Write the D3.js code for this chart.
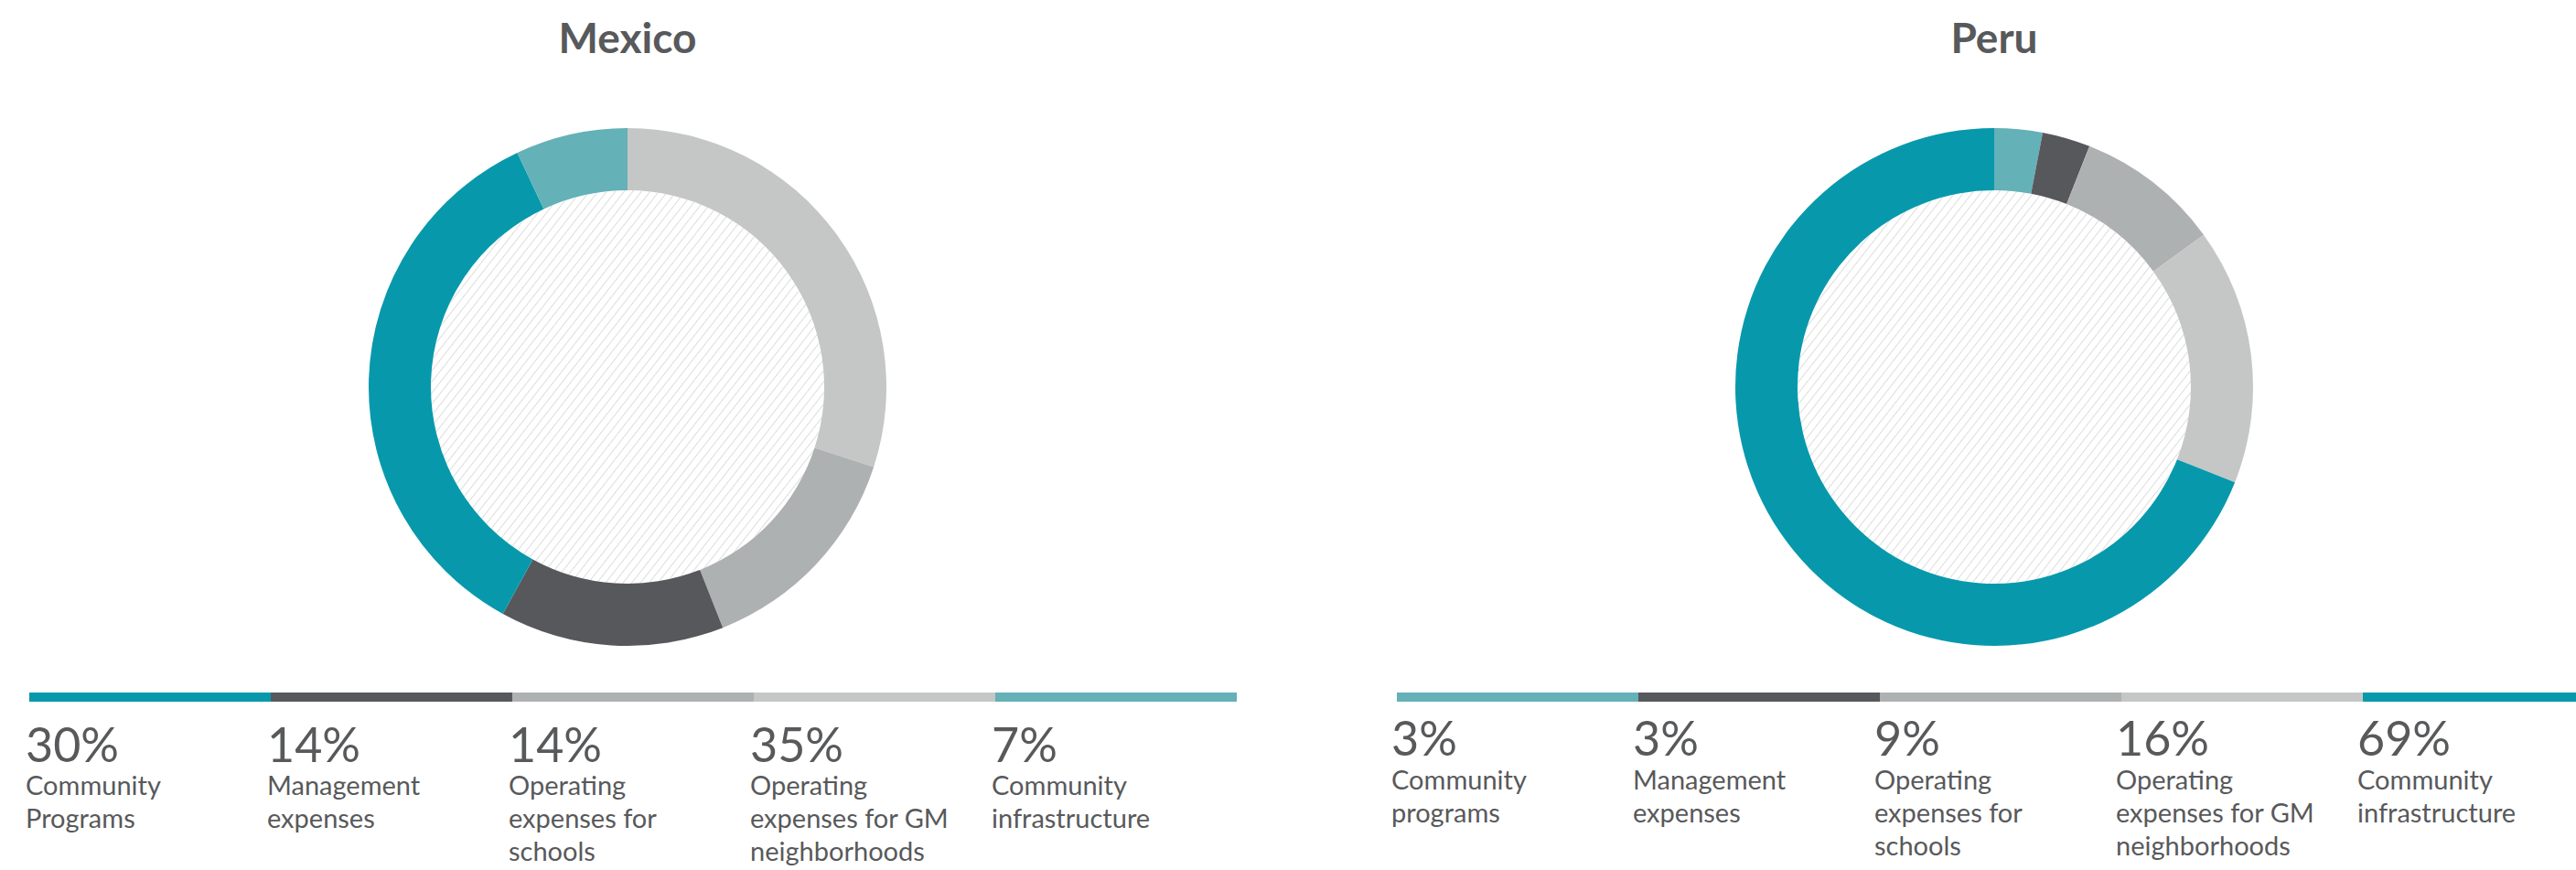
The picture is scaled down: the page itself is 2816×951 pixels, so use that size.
<!DOCTYPE html>
<html>
<head>
<meta charset="utf-8">
<script src="https://cdn.jsdelivr.net/npm/d3@7"></script>
<style>
  html, body { margin: 0; padding: 0; background: #fff; }
  svg { display: block; }
</style>
</head>
<body>
<div id="chart"></div>
<script>
// Data
const mexicoValues = [30, 14, 14, 35, 7];
const mexicoLabels = [
    ["Community", "Programs"],
    ["Management", "expenses"],
    ["Operating", "expenses for", "schools"],
    ["Operating", "expenses for GM", "neighborhoods"],
    ["Community", "infrastructure"]
];
const peruValues = [3, 3, 9, 16, 69];
const peruLabels = [
    ["Community", "programs"],
    ["Management", "expenses"],
    ["Operating", "expenses for", "schools"],
    ["Operating", "expenses for GM", "neighborhoods"],
    ["Community", "infrastructure"]
];

// Colour palette
const palette = {
    teal: "#0799ab",
    lightTeal: "#64b1b8",
    dark: "#57585c",
    mid: "#aeb1b2",
    light: "#c5c7c6"
};
const textColor = "#58595b";

// legend colours and slice colours (clockwise from 12 o'clock)
const mexicoLegendColors = [palette.teal, palette.dark, palette.mid, palette.light, palette.lightTeal];
const mexicoSliceColors = [palette.light, palette.mid, palette.dark, palette.teal, palette.lightTeal];
const peruLegendColors = [palette.lightTeal, palette.dark, palette.mid, palette.light, palette.teal];
const peruSliceColors = peruLegendColors;

const width = 2816, height = 951;
const fontFamily = "Lato, 'Noto Sans', sans-serif";

const svg = d3.select("#chart")
    .append("svg")
    .attr("width", width)
    .attr("height", height)
    .style("font-family", fontFamily);

// Hatch for the donut hole
const defs = svg.append("defs");
defs.append("pattern")
    .attr("id", "hatch")
    .attr("patternUnits", "userSpaceOnUse")
    .attr("width", 7.5)
    .attr("height", 7.5)
    .attr("patternTransform", "rotate(38)")
    .append("line")
    .attr("x1", 0).attr("y1", 0)
    .attr("x2", 0).attr("y2", 7.5)
    .attr("stroke", "#cfcfcf")
    .attr("stroke-width", 1.4);

const outerR = 283, innerR = 215;
const colWidth = 264;

const charts = [
    {
        title: "Mexico", values: mexicoValues, labels: mexicoLabels,
        legendColors: mexicoLegendColors, sliceColors: mexicoSliceColors,
        cx: 686, cy: 423, legendX: 32, textDx: -4, pctY: 833, labelY: 869
    },
    {
        title: "Peru", values: peruValues, labels: peruLabels,
        legendColors: peruLegendColors, sliceColors: peruSliceColors,
        cx: 2180, cy: 423, legendX: 1527, textDx: -6, pctY: 826, labelY: 863
    }
];

const pie = d3.pie().sort(null).value(d => d);
const arc = d3.arc().innerRadius(innerR).outerRadius(outerR);

charts.forEach(c => {
    const g = svg.append("g");

    // Title
    g.append("text")
        .attr("x", c.cx)
        .attr("y", 58)
        .attr("text-anchor", "middle")
        .attr("fill", textColor)
        .style("font-size", "46px")
        .style("font-weight", "bold")
        .text(c.title);

    // Donut
    const donut = g.append("g")
        .attr("transform", `translate(${c.cx},${c.cy})`);
    donut.append("circle")
        .attr("r", innerR)
        .attr("fill", "url(#hatch)");
    donut.selectAll("path")
        .data(pie(c.values))
        .join("path")
        .attr("fill", (d, i) => c.sliceColors[i])
        .attr("d", arc);

    // Legend
    const x = d3.scaleBand()
        .domain(d3.range(c.values.length))
        .range([c.legendX, c.legendX + colWidth * c.values.length]);

    const items = g.selectAll(".legend-item")
        .data(c.values)
        .join("g")
        .attr("class", "legend-item")
        .attr("transform", (d, i) => `translate(${x(i)},0)`);

    items.append("rect")
        .attr("x", 0)
        .attr("y", 757)
        .attr("width", x.bandwidth())
        .attr("height", 10)
        .attr("fill", (d, i) => c.legendColors[i]);

    items.append("text")
        .attr("x", c.textDx)
        .attr("y", c.pctY)
        .attr("fill", textColor)
        .style("font-size", "52px")
        .text(d => d + "%");

    items.append("text")
        .attr("fill", textColor)
        .style("font-size", "29px")
        .selectAll("tspan")
        .data((d, i) => c.labels[i])
        .join("tspan")
        .attr("x", c.textDx)
        .attr("y", (d, j) => c.labelY + j * 36)
        .text(d => d);
});
</script>
</body>
</html>
